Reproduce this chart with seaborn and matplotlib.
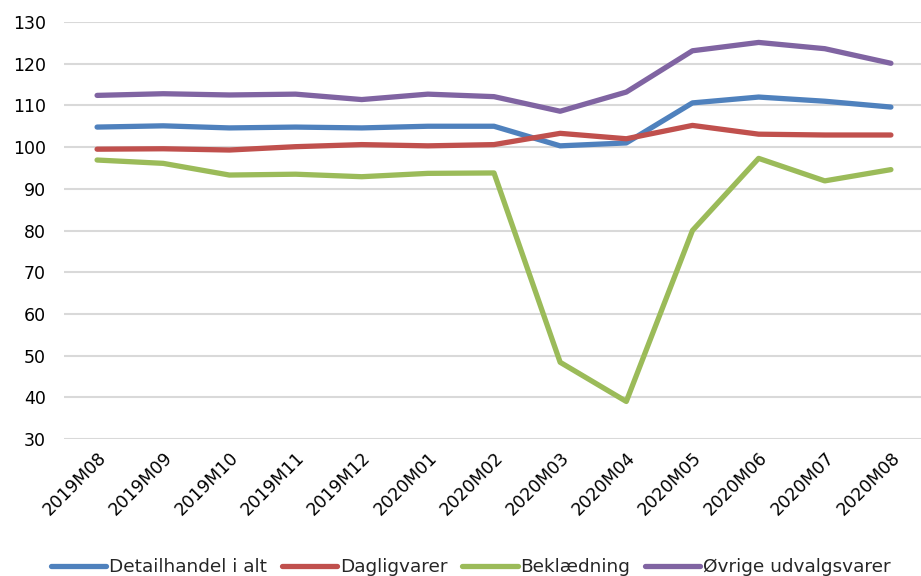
import matplotlib
matplotlib.use("Agg")
import matplotlib.pyplot as plt
import seaborn as sns
import pandas as pd

months = ["2019M08", "2019M09", "2019M10", "2019M11", "2019M12", "2020M01",
          "2020M02", "2020M03", "2020M04", "2020M05", "2020M06", "2020M07", "2020M08"]
detailhandel = [104.8, 105.1, 104.6, 104.8, 104.6, 105.0, 105.0, 100.3, 101.0, 110.6, 112.0, 111.0, 109.6]
dagligvarer = [99.5, 99.6, 99.3, 100.1, 100.6, 100.3, 100.6, 103.3, 102.0, 105.2, 103.1, 102.9, 102.9]
beklaedning = [96.9, 96.1, 93.3, 93.5, 92.9, 93.7, 93.8, 48.4, 39.0, 80.0, 97.3, 91.9, 94.6]
oevrige = [112.4, 112.8, 112.5, 112.7, 111.4, 112.7, 112.1, 108.6, 113.2, 123.1, 125.1, 123.6, 120.1]

series_names = ["Detailhandel i alt", "Dagligvarer", "Beklædning", "Øvrige udvalgsvarer"]
palette = ["#4F81BD", "#C0504D", "#9BBB59", "#8064A2"]

df = pd.DataFrame({"Måned": months,
                   series_names[0]: detailhandel,
                   series_names[1]: dagligvarer,
                   series_names[2]: beklaedning,
                   series_names[3]: oevrige})
long = df.melt(id_vars="Måned", var_name="Serie", value_name="Indeks")
long["pos"] = long["Måned"].map({m: i for i, m in enumerate(months)})

sns.set_theme(style="white")
plt.rcParams["font.family"] = ["DejaVu Sans"]
plt.rcParams["font.sans-serif"] = ["DejaVu Sans"]
FONT = "DejaVu Sans"

fig = plt.figure(figsize=(9.21, 5.76), dpi=100)
ax = fig.add_axes([64 / 921, 1 - 439 / 576, 860 / 921, 417 / 576])

sns.lineplot(data=long, x="pos", y="Indeks", hue="Serie", hue_order=series_names,
             palette=palette, linewidth=3.8, ax=ax, legend=True,
             solid_capstyle="round", solid_joinstyle="round")

ax.set_xlim(-0.5, len(months) - 0.5)
ax.set_ylim(30, 130)
ax.set_yticks(range(30, 131, 10))
ax.set_yticklabels([str(v) for v in range(30, 131, 10)], fontfamily=FONT, fontsize=12.5)
ax.set_xticks(range(len(months)))
ax.set_xticklabels(months, rotation=45, ha="right", rotation_mode="anchor",
                   fontfamily=FONT, fontsize=12.5)
ax.tick_params(axis="x", pad=7, length=0, colors="#000000")
ax.tick_params(axis="y", pad=13, length=0, colors="#000000")
ax.yaxis.grid(True, color="#D9D9D9", linewidth=1.5)
ax.set_axisbelow(True)
for s in ax.spines.values():
    s.set_visible(False)
ax.set_xlabel("")
ax.set_ylabel("")

handles, labels = ax.get_legend_handles_labels()
ax.legend(handles, labels, loc="center", bbox_to_anchor=(0.473, -0.307),
          ncol=4, frameon=False, prop={"family": FONT, "size": 13.3},
          handlelength=3.0, handletextpad=0.15, columnspacing=0.8)

fig.savefig("out.png", dpi=100)
